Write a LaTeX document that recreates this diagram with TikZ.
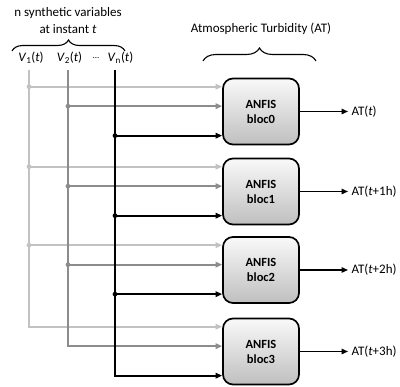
\documentclass[tikz,border=0pt]{standalone}
\usepackage{fontspec}
\setmainfont{Carlito}
\usetikzlibrary{arrows.meta,decorations.pathreplacing,calc}
\definecolor{lightfeed}{HTML}{C2C2C2}
\definecolor{midfeed}{HTML}{8C8C8C}
\begin{document}
\begin{tikzpicture}[x=1pt,y=-1pt,
  font=\fontsize{13}{17}\selectfont,
  bloc/.style={draw=black, line width=1.7pt, rounded corners=10pt,
    minimum width=76pt, minimum height=66pt, inner sep=0pt,
    top color=gray!5, bottom color=gray!50, align=center,
    font=\fontsize{12.5}{15}\selectfont\bfseries},
  feed/.style={line width=1.9pt},
  tipped/.style={-{Triangle[length=6.5pt,width=5.5pt]}},
  outarrow/.style={line width=1.4pt, -{Triangle[length=6.5pt,width=5.5pt]}},
  bracket/.style={decorate, decoration={brace, amplitude=#1}, line width=1.1pt},
]
\useasboundingbox (0,0) rectangle (400,387);

% header texts and braces
\node[align=center] (head) at (68,21) {n synthetic variables\\at instant \textit{t}};
\draw[bracket=11pt] (12,51) -- (125,51);
\node (v1lab) at (31,58) {\textit{V}\textsubscript{1}(\textit{t})};
\node (v2lab) at (69.5,58) {\textit{V}\textsubscript{2}(\textit{t})};
\node (dots)  at (96,58) {\fontsize{9}{10}\selectfont ...};
\node (v3lab) at (120.5,58) {\textit{V}\textsubscript{n}(\textit{t})};

\node (at) at (261,29) {Atmospheric Turbidity (AT)};
\draw[bracket=13pt] (203,61) -- (316,61);

% ANFIS blocks
\node[bloc] (blk0) at (261,111.5) {ANFIS\\bloc0};
\node[bloc] (blk1) at (261,191.5) {ANFIS\\bloc1};
\node[bloc] (blk2) at (261,270)   {ANFIS\\bloc2};
\node[bloc] (blk3) at (261,351.5) {ANFIS\\bloc3};

% outputs
\node[anchor=west] (o0) at (348,111.5) {AT(\textit{t})};
\node[anchor=west] (o1) at (348,191.5) {AT(\textit{t}+1h)};
\node[anchor=west] (o2) at (348,270)   {AT(\textit{t}+2h)};
\node[anchor=west] (o3) at (348,351.5) {AT(\textit{t}+3h)};
\foreach \i in {0,...,3} \draw[outarrow] (blk\i.east) -- (o\i.west);

% input rows of each block
\foreach \i in {0,...,3} {
  \coordinate (la\i) at ($(blk\i.north west)+(0,9)$);
  \coordinate (ma\i) at ($(blk\i.north west)+(0,28.5)$);
  \coordinate (da\i) at ($(blk\i.north west)+(0,58)$);
}

% input buses
\coordinate (v1) at (29,70);
\coordinate (v2) at (68,70);
\coordinate (v3) at (115,70);

\foreach \i in {0,1,2} {
  \draw[feed, lightfeed, tipped] (la\i -| v1) -- (la\i);
  \fill[lightfeed] (la\i -| v1) circle (2.4pt);
}
\draw[feed, lightfeed, tipped] (v1) |- (la3);

\foreach \i in {0,1,2} {
  \draw[feed, midfeed, tipped] (ma\i -| v2) -- (ma\i);
  \fill[midfeed] (ma\i -| v2) circle (2.4pt);
}
\draw[feed, midfeed, tipped] (v2) |- (ma3);

\foreach \i in {0,1,2} {
  \draw[feed, black, tipped] (da\i -| v3) -- (da\i);
  \fill[black] (da\i -| v3) circle (2.4pt);
}
\draw[feed, black, tipped] (v3) |- (da3);
\end{tikzpicture}
\end{document}
